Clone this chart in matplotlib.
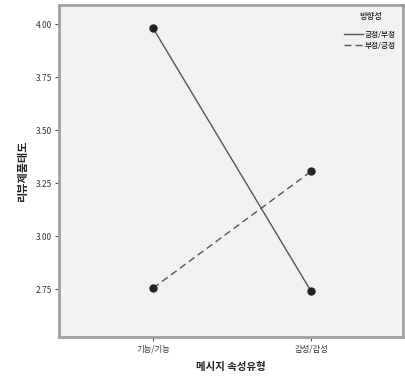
import matplotlib.pyplot as plt

plt.rcParams['font.family'] = ['Noto Sans CJK KR', 'DejaVu Sans']

categories = ["기능/기능", "감성/감성"]
series_names = ["긍정/부정", "부정/긍정"]
pos_neg = [3.98, 2.74]
neg_pos = [2.755, 3.305]

fig = plt.figure(figsize=(4.05, 3.8), dpi=100, facecolor="white")
ax = fig.add_axes([0.146, 0.113, 0.849, 0.874])
ax.set_facecolor("#f0f1f3")

x = range(len(categories))
ax.plot(x, pos_neg, color="#555555", linewidth=1.0, linestyle="-",
        marker="o", markersize=5, markerfacecolor="#222222", markeredgecolor="#222222",
        label=series_names[0])
ax.plot(x, neg_pos, color="#555555", linewidth=1.0, linestyle=(0, (5, 3)),
        marker="o", markersize=5, markerfacecolor="#222222", markeredgecolor="#222222",
        label=series_names[1])

ax.set_xlim(-0.595, 1.582)
ax.set_ylim(2.524, 4.09)
ax.set_xticks(list(x))
ax.set_xticklabels(categories, fontsize=6, color="#333333")
ax.set_yticks([2.75, 3.00, 3.25, 3.50, 3.75, 4.00])
ax.set_yticklabels(["2.75", "3.00", "3.25", "3.50", "3.75", "4.00"], fontsize=6, color="#333333")
ax.tick_params(axis="both", length=3, width=0.8, color="#555555", pad=2)

for side in ax.spines.values():
    side.set_color("#a0a0a0")
    side.set_linewidth(2.0)

ax.set_xlabel("메시지 속성유형", fontsize=7.5, color="#222222", labelpad=6, fontweight="bold")
ax.set_ylabel("리뷰제품태도", fontsize=8, color="#222222", labelpad=5, fontweight="bold")

leg = ax.legend(title="방향성", loc="upper right", fontsize=5.5, title_fontsize=6,
                frameon=False, handlelength=2.4, handletextpad=0.3,
                borderaxespad=0.5, labelspacing=0.45, markerscale=0)
leg._legend_box.sep = 7
for h in leg.legend_handles:
    h.set_marker("")

fig.savefig("out.png", dpi=100, facecolor="white")
